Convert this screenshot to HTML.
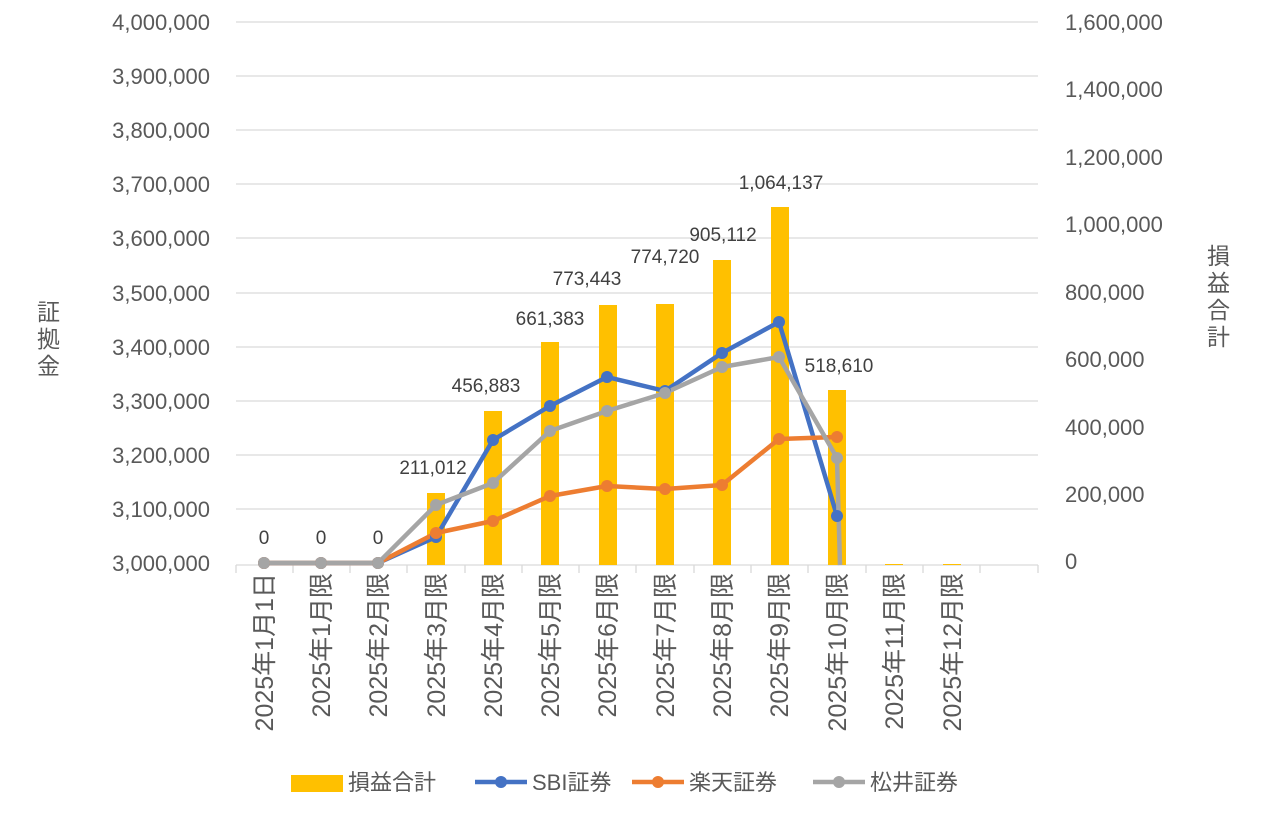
<!DOCTYPE html>
<html><head><meta charset="utf-8"><style>
html,body{margin:0;padding:0;background:#fff;}
svg{display:block;font-family:"Liberation Sans","Noto Sans CJK JP",sans-serif;}
</style></head><body>
<svg width="1274" height="816" viewBox="0 0 1274 816">
<g stroke="#d9d9d9" stroke-width="1.3">
<line x1="236" y1="22" x2="1038" y2="22"/><line x1="236" y1="76" x2="1038" y2="76"/>
<line x1="236" y1="130" x2="1038" y2="130"/><line x1="236" y1="184" x2="1038" y2="184"/>
<line x1="236" y1="238" x2="1038" y2="238"/><line x1="236" y1="293" x2="1038" y2="293"/>
<line x1="236" y1="347" x2="1038" y2="347"/><line x1="236" y1="401" x2="1038" y2="401"/>
<line x1="236" y1="455" x2="1038" y2="455"/><line x1="236" y1="509" x2="1038" y2="509"/>
<line x1="236" y1="565" x2="1038" y2="565"/>
<line x1="236" y1="565" x2="236" y2="573"/><line x1="293" y1="565" x2="293" y2="573"/>
<line x1="350" y1="565" x2="350" y2="573"/><line x1="407" y1="565" x2="407" y2="573"/>
<line x1="465" y1="565" x2="465" y2="573"/><line x1="522" y1="565" x2="522" y2="573"/>
<line x1="579" y1="565" x2="579" y2="573"/><line x1="636" y1="565" x2="636" y2="573"/>
<line x1="694" y1="565" x2="694" y2="573"/><line x1="751" y1="565" x2="751" y2="573"/>
<line x1="808" y1="565" x2="808" y2="573"/><line x1="866" y1="565" x2="866" y2="573"/>
<line x1="923" y1="565" x2="923" y2="573"/><line x1="980" y1="565" x2="980" y2="573"/>
<line x1="1038" y1="565" x2="1038" y2="573"/>
</g>
<g fill="#595959" font-size="22" text-anchor="end">
<text x="210" y="30">4,000,000</text><text x="210" y="84">3,900,000</text>
<text x="210" y="138">3,800,000</text><text x="210" y="192">3,700,000</text>
<text x="210" y="246">3,600,000</text><text x="210" y="301">3,500,000</text>
<text x="210" y="355">3,400,000</text><text x="210" y="409">3,300,000</text>
<text x="210" y="463">3,200,000</text><text x="210" y="517">3,100,000</text>
<text x="210" y="571">3,000,000</text>
</g>
<g fill="#595959" font-size="22" text-anchor="start">
<text x="1065" y="30">1,600,000</text><text x="1065" y="97">1,400,000</text>
<text x="1065" y="165">1,200,000</text><text x="1065" y="232">1,000,000</text>
<text x="1065" y="300">800,000</text><text x="1065" y="367">600,000</text>
<text x="1065" y="435">400,000</text><text x="1065" y="502">200,000</text>
<text x="1065" y="569">0</text>
</g>
<g fill="#595959" font-size="23">
<text x="37" y="320">証</text><text x="37" y="347">拠</text><text x="37" y="374">金</text>
<text x="1207" y="264">損</text><text x="1207" y="291">益</text><text x="1207" y="318">合</text><text x="1207" y="345">計</text>
</g>
<g fill="#595959" font-size="25" text-anchor="end">
<text transform="translate(273,573) rotate(-90)">2025年1月1日</text>
<text transform="translate(330,573) rotate(-90)">2025年1月限</text>
<text transform="translate(387,573) rotate(-90)">2025年2月限</text>
<text transform="translate(445,573) rotate(-90)">2025年3月限</text>
<text transform="translate(502,573) rotate(-90)">2025年4月限</text>
<text transform="translate(559,573) rotate(-90)">2025年5月限</text>
<text transform="translate(616,573) rotate(-90)">2025年6月限</text>
<text transform="translate(674,573) rotate(-90)">2025年7月限</text>
<text transform="translate(731,573) rotate(-90)">2025年8月限</text>
<text transform="translate(788,573) rotate(-90)">2025年9月限</text>
<text transform="translate(846,573) rotate(-90)">2025年10月限</text>
<text transform="translate(903,573) rotate(-90)">2025年11月限</text>
<text transform="translate(961,573) rotate(-90)">2025年12月限</text>
</g>
<g fill="#ffc000">
<rect x="427" y="493" width="18" height="72"/>
<rect x="484" y="411" width="18" height="154"/>
<rect x="541" y="342" width="18" height="223"/>
<rect x="599" y="305" width="18" height="260"/>
<rect x="656" y="304" width="18" height="261"/>
<rect x="713" y="260" width="18" height="305"/>
<rect x="771" y="207" width="18" height="358"/>
<rect x="828" y="390" width="18" height="175"/>
<rect x="885" y="564" width="18" height="1"/>
<rect x="943" y="564" width="18" height="1"/>
</g>
<g fill="none" stroke-width="4.5" stroke-linejoin="round">
<polyline stroke="#4472c4" points="264,563 321,563 378,563 436,537 493,440 550,406 607,377 665,391 722,353 779,322 837,516"/>
<polyline stroke="#ed7d31" points="264,563 321,563 378,563 436,533 493,521 550,496 607,486 665,489 722,485 779,439 837,437"/>
<polyline stroke="#a5a5a5" points="264,563 321,563 378,563 436,505 493,483 550,431 607,411 665,393 722,367 779,357 837,458 840,565"/>
</g>
<g fill="#4472c4">
<circle cx="264" cy="563" r="6"/><circle cx="321" cy="563" r="6"/><circle cx="378" cy="563" r="6"/><circle cx="436" cy="537" r="6"/><circle cx="493" cy="440" r="6"/><circle cx="550" cy="406" r="6"/><circle cx="607" cy="377" r="6"/><circle cx="665" cy="391" r="6"/><circle cx="722" cy="353" r="6"/><circle cx="779" cy="322" r="6"/><circle cx="837" cy="516" r="6"/>
</g>
<g fill="#ed7d31">
<circle cx="264" cy="563" r="6"/><circle cx="321" cy="563" r="6"/><circle cx="378" cy="563" r="6"/><circle cx="436" cy="533" r="6"/><circle cx="493" cy="521" r="6"/><circle cx="550" cy="496" r="6"/><circle cx="607" cy="486" r="6"/><circle cx="665" cy="489" r="6"/><circle cx="722" cy="485" r="6"/><circle cx="779" cy="439" r="6"/><circle cx="837" cy="437" r="6"/>
</g>
<g fill="#a5a5a5">
<circle cx="264" cy="563" r="6"/><circle cx="321" cy="563" r="6"/><circle cx="378" cy="563" r="6"/><circle cx="436" cy="505" r="6"/><circle cx="493" cy="483" r="6"/><circle cx="550" cy="431" r="6"/><circle cx="607" cy="411" r="6"/><circle cx="665" cy="393" r="6"/><circle cx="722" cy="367" r="6"/><circle cx="779" cy="357" r="6"/><circle cx="837" cy="458" r="6"/>
</g>
<g fill="#404040" font-size="19" text-anchor="middle">
<text x="264" y="544">0</text><text x="321" y="544">0</text><text x="378" y="544">0</text>
<text x="433" y="474">211,012</text><text x="486" y="392">456,883</text>
<text x="550" y="325">661,383</text><text x="587" y="285">773,443</text>
<text x="665" y="263">774,720</text><text x="723" y="241">905,112</text>
<text x="781" y="189">1,064,137</text><text x="839" y="372">518,610</text>
</g>
<g font-size="22" fill="#595959">
<rect x="291" y="775" width="52" height="17" fill="#ffc000"/>
<text x="348" y="790">損益合計</text>
<line x1="475" y1="782" x2="527" y2="782" stroke="#4472c4" stroke-width="4.5"/><circle cx="501" cy="782" r="6" fill="#4472c4"/>
<text x="532" y="790">SBI証券</text>
<line x1="632" y1="782" x2="684" y2="782" stroke="#ed7d31" stroke-width="4.5"/><circle cx="658" cy="782" r="6" fill="#ed7d31"/>
<text x="689" y="790">楽天証券</text>
<line x1="813" y1="782" x2="865" y2="782" stroke="#a5a5a5" stroke-width="4.5"/><circle cx="839" cy="782" r="6" fill="#a5a5a5"/>
<text x="870" y="790">松井証券</text>
</g>
</svg>
</body></html>
